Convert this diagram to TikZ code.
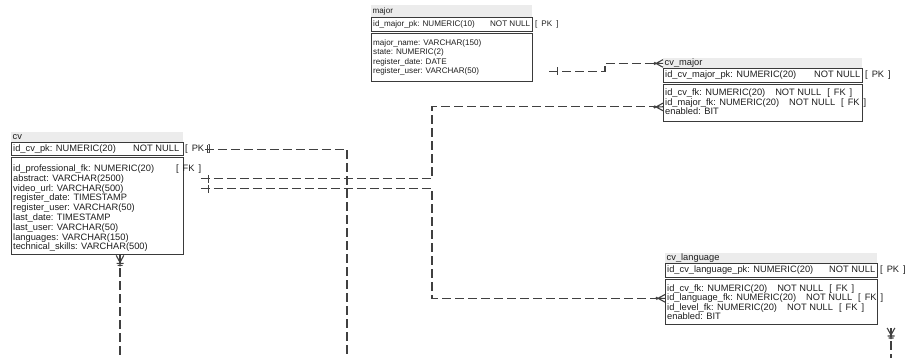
\documentclass[tikz,border=0pt]{standalone}
\usepackage{fontspec}
\setmainfont{Liberation Sans}
\usetikzlibrary{calc}
\definecolor{boxline}{HTML}{3A3A3A}
\definecolor{relline}{HTML}{404040}
\definecolor{band}{HTML}{ECECEC}
\definecolor{txt}{HTML}{1E1E1E}
\newcommand\gapa{\hspace*{10pt}}
\newcommand\gapb{\hspace*{6pt}}
\newcommand\fkl{[\hspace*{4pt}FK\hspace*{4pt}]}
\newcommand\pkl{[\hspace*{4pt}PK\hspace*{4pt}]}
\begin{document}
\begin{tikzpicture}[x=1pt,y=-1pt,
  bandbox/.style={fill=band, draw=none, anchor=north west, inner sep=0pt},
  tbox/.style={draw=boxline, line width=0.9pt, anchor=north west, inner sep=0pt, fill=white},
  rowtext/.style={anchor=west, inner sep=0pt, text=txt, text height=7pt, text depth=2pt,
                  font=\fontsize{9.3}{9.4}\selectfont},
  smalltext/.style={rowtext, text height=6pt, text depth=1.8pt, font=\fontsize{8.1}{8.5}\selectfont},
  rel/.style={draw=relline, line width=1.1pt, dash pattern=on 9pt off 4pt},
  crow/.pic={\draw[solid, line width=1.1pt, draw=relline] (0,-3.8) -- (-7,0) -- (0,3.8) (0,0) -- (-7,0);
             \fill[relline] (-8.2,0) circle (1.7pt);},
  crowbar/.pic={\draw[solid, line width=1.1pt, draw=relline] (0,-3.8) -- (-7,0) -- (0,3.8) (0,0) -- (-11,0)
                (-8,-3.5) -- (-8,3.5) (-10,-2.5) -- (-10,2.5);},
  onebar/.pic={\draw[solid, line width=1pt, draw=relline] (0,-4) -- (0,4);}
]
\useasboundingbox (0,0) rectangle (908,358);

% ---------- major ----------
\node[bandbox, minimum width=161pt, minimum height=12pt] (major-band) at (371,5) {};
\node[smalltext] (major-title) at (372.5,11) {major};
\node[tbox, minimum width=161pt, minimum height=14pt] (major-pk) at (371,17) {};
\node[smalltext] (major-pkt) at (373,24) {\hbox to 157pt{id\_major\_pk: NUMERIC(10)\hfil NOT NULL}};
\node[smalltext] (major-pkl) at (535,24) {\pkl};
\node[tbox, minimum width=161pt, minimum height=48pt] (major-body) at (371,33) {};
\node[smalltext] (major-r1) at (373,43) {major\_name: VARCHAR(150)};
\node[smalltext] (major-r2) at (373,52.5) {state: NUMERIC(2)};
\node[smalltext] (major-r3) at (373,62) {register\_date: DATE};
\node[smalltext] (major-r4) at (373,71.5) {register\_user: VARCHAR(50)};

% ---------- cv_major ----------
\node[bandbox, minimum width=199pt, minimum height=10.5pt] (cvm-band) at (663,58) {};
\node[rowtext] (cvm-title) at (664.5,63.5) {cv\_major};
\node[tbox, minimum width=199pt, minimum height=13.5pt] (cvm-pk) at (663,68.5) {};
\node[rowtext] (cvm-pkt) at (665,75.2) {\hbox to 195pt{id\_cv\_major\_pk: NUMERIC(20)\hfil NOT NULL}};
\node[rowtext] (cvm-pkl) at (865,75.2) {\pkl};
\node[tbox, minimum width=199pt, minimum height=37pt] (cvm-body) at (663,84) {};
\node[rowtext] (cvm-r1) at (665,93.5) {id\_cv\_fk: NUMERIC(20)\gapa NOT NULL\gapb\fkl};
\node[rowtext] (cvm-r2) at (665,103) {id\_major\_fk: NUMERIC(20)\gapa NOT NULL\gapb\fkl};
\node[rowtext] (cvm-r3) at (665,112.5) {enabled: BIT};

% ---------- cv ----------
\node[bandbox, minimum width=172pt, minimum height=10pt] (cv-band) at (11,132) {};
\node[rowtext] (cv-title) at (12.5,137) {cv};
\node[tbox, minimum width=172pt, minimum height=13.5pt] (cv-pk) at (11,142) {};
\node[rowtext] (cv-pkt) at (13,148.8) {\hbox to 166pt{id\_cv\_pk: NUMERIC(20)\hfil NOT NULL}};
\node[rowtext] (cv-pkl) at (185,148.8) {\pkl};
\node[tbox, minimum width=172pt, minimum height=97pt] (cv-body) at (11,157.5) {};
\node[rowtext] (cv-r1) at (13,169) {id\_professional\_fk: NUMERIC(20)\hspace*{22pt}\fkl};
\node[rowtext] (cv-r2) at (13,178.8) {abstract: VARCHAR(2500)};
\node[rowtext] (cv-r3) at (13,188.6) {video\_url: VARCHAR(500)};
\node[rowtext] (cv-r4) at (13,198.4) {register\_date: TIMESTAMP};
\node[rowtext] (cv-r5) at (13,208.2) {register\_user: VARCHAR(50)};
\node[rowtext] (cv-r6) at (13,218) {last\_date: TIMESTAMP};
\node[rowtext] (cv-r7) at (13,227.8) {last\_user: VARCHAR(50)};
\node[rowtext] (cv-r8) at (13,237.6) {languages: VARCHAR(150)};
\node[rowtext] (cv-r9) at (13,247.4) {technical\_skills: VARCHAR(500)};

% ---------- cv_language ----------
\node[bandbox, minimum width=212pt, minimum height=10.5pt] (cvl-band) at (665,252.5) {};
\node[rowtext] (cvl-title) at (666.5,257.8) {cv\_language};
\node[tbox, minimum width=212pt, minimum height=14.5pt] (cvl-pk) at (665,263) {};
\node[rowtext] (cvl-pkt) at (667,270.3) {\hbox to 208pt{id\_cv\_language\_pk: NUMERIC(20)\hfil NOT NULL}};
\node[rowtext] (cvl-pkl) at (880,270.3) {\pkl};
\node[tbox, minimum width=212pt, minimum height=44.5pt] (cvl-body) at (665,279.5) {};
\node[rowtext] (cvl-r1) at (667,289) {id\_cv\_fk: NUMERIC(20)\gapa NOT NULL\gapb\fkl};
\node[rowtext] (cvl-r2) at (667,298.3) {id\_language\_fk: NUMERIC(20)\gapa NOT NULL\gapb\fkl};
\node[rowtext] (cvl-r3) at (667,307.6) {id\_level\_fk: NUMERIC(20)\gapa NOT NULL\gapb\fkl};
\node[rowtext] (cvl-r4) at (667,316.9) {enabled: BIT};

% ---------- connector helpers ----------
\coordinate (bus) at (432,0);
\coordinate (pkbus) at (347,0);
\coordinate (x120) at (120,0);
\coordinate (bottom) at (0,364);
\coordinate (mj-start) at (549,71.5);
\coordinate (pk-start) at ($(cv-pk.east)+(21,0)$);
\coordinate (ab-start) at ($(cv-r2.west -| cv-pk.east)+(17,0)$);
\coordinate (vu-start) at ($(cv-r3.west -| cv-pk.east)+(17,0)$);
\coordinate (cvm-in) at ($(cvm-body.west)+(0,4)$);
\coordinate (cvl-in) at (cvl-body.west |- cvl-r2.west);
\coordinate (cv-bot) at (x120 |- cv-body.south);
\coordinate (fl-top) at (891,328);

% ---------- connectors ----------
\draw[rel] (mj-start) -- ++(56,0) |- (cvm-band.west);
\draw[rel] (pk-start) -| (pkbus |- bottom);
\draw[rel] (ab-start) -| (bus |- cvm-in) -- (cvm-in);
\draw[rel] (vu-start) -| (bus |- cvl-in) -- (cvl-in);
\draw[rel] (cv-bot) -- (x120 |- bottom);
\draw[rel] (fl-top) -- (fl-top |- bottom);

% ---------- end marks ----------
\pic at ($(mj-start)+(8,0)$) {onebar};
\pic at ($(pk-start)+(3,0)$) {onebar};
\pic at ($(ab-start)+(8,0)$) {onebar};
\pic at ($(vu-start)+(8,0)$) {onebar};
\pic at (cvm-band.west) {crow};
\pic at (cvm-in) {crow};
\pic at (cvl-in) {crow};
\pic[rotate=90] at (cv-bot) {crowbar};
\pic[rotate=90] at (fl-top) {crowbar};
\end{tikzpicture}
\end{document}
